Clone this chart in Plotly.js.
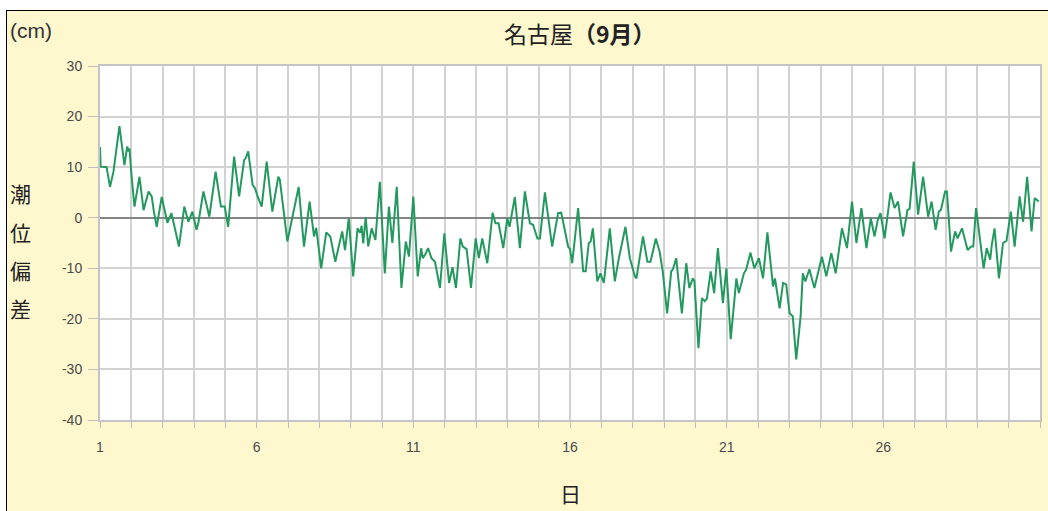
<!DOCTYPE html>
<html>
<head>
<meta charset="utf-8">
<script src="https://cdn.plot.ly/plotly-3.0.1.min.js"></script>
<style>
  html, body { margin: 0; padding: 0; background: #ffffff; width: 1048px; height: 511px; overflow: hidden; }
  #frame { position: absolute; left: 6px; top: 10px; width: 1050px; height: 510px; border-left: 1px solid #000; border-top: 1px solid #000; background: #fff8cf; }
  #chart { position: absolute; left: 0; top: 0; width: 1041px; height: 500px; }
</style>
</head>
<body>
<div id="frame"><div id="chart"></div></div>
<script>
// Day of month (fractional) and tide deviation (cm)
const days = [
  1.00, 1.02, 1.21, 1.32, 1.43, 1.62, 1.78, 1.87, 1.91, 1.94, 2.01, 2.10, 2.26, 2.39, 2.55, 2.65, 2.72, 2.81, 2.97, 3.09,
  3.15, 3.28, 3.52, 3.69, 3.82, 3.95, 4.08, 4.14, 4.30, 4.49, 4.69, 4.86, 4.98, 5.09, 5.28, 5.44, 5.60, 5.65, 5.73, 5.87,
  5.95, 6.03, 6.16, 6.32, 6.50, 6.69, 6.74, 6.98, 7.19, 7.34, 7.51, 7.69, 7.83, 7.90, 8.06, 8.22, 8.35, 8.51, 8.63, 8.73,
  8.82, 8.94, 9.08, 9.22, 9.30, 9.35, 9.40, 9.48, 9.56, 9.67, 9.79, 9.93, 10.09, 10.22, 10.33, 10.47, 10.62, 10.76, 10.86, 11.00,
  11.14, 11.25, 11.30, 11.38, 11.47, 11.58, 11.69, 11.85, 11.99, 12.14, 12.25, 12.36, 12.50, 12.58, 12.70, 12.84, 12.99, 13.09, 13.20, 13.36,
  13.53, 13.62, 13.72, 13.87, 14.00, 14.07, 14.24, 14.40, 14.56, 14.72, 14.82, 14.96, 15.04, 15.20, 15.43, 15.62, 15.72, 15.94, 16.00, 16.07,
  16.26, 16.42, 16.50, 16.60, 16.66, 16.73, 16.87, 16.97, 17.08, 17.27, 17.43, 17.56, 17.77, 17.91, 18.07, 18.12, 18.33, 18.47, 18.57, 18.74,
  18.86, 18.96, 19.10, 19.23, 19.28, 19.39, 19.57, 19.71, 19.81, 19.92, 19.97, 20.10, 20.21, 20.30, 20.37, 20.49, 20.60, 20.72, 20.88, 20.99,
  21.13, 21.31, 21.39, 21.55, 21.62, 21.76, 21.88, 22.03, 22.16, 22.30, 22.48, 22.54, 22.69, 22.80, 22.90, 23.01, 23.11, 23.22, 23.36, 23.43,
  23.51, 23.64, 23.80, 23.96, 24.04, 24.18, 24.34, 24.48, 24.68, 24.84, 25.00, 25.14, 25.30, 25.46, 25.60, 25.72, 25.82, 25.91, 26.04, 26.23,
  26.36, 26.47, 26.63, 26.77, 26.84, 26.97, 27.11, 27.27, 27.43, 27.54, 27.67, 27.77, 27.84, 27.97, 28.03, 28.16, 28.29, 28.37, 28.51, 28.69,
  28.80, 28.87, 28.96, 29.20, 29.30, 29.41, 29.46, 29.55, 29.69, 29.82, 29.93, 30.07, 30.19, 30.35, 30.46, 30.59, 30.73, 30.83, 30.96
];
const deviation = [
  14.0, 10.1, 10.0, 6.1, 9.1, 18.1, 10.4, 14.1, 13.1, 13.7, 8.1, 2.2, 8.1, 1.5, 5.2, 4.2, 1.2, -1.8, 4.1, 0.2,
  -1.0, 0.9, -5.7, 2.2, -0.8, 1.2, -2.4, -1.0, 5.2, 0.2, 9.1, 2.2, 2.2, -1.8, 12.1, 4.2, 11.4, 11.8, 13.1, 6.5,
  5.8, 4.2, 2.2, 11.1, 1.2, 8.1, 7.5, -4.7, 1.5, 6.1, -5.7, 3.2, -3.7, -2.0, -10.0, -2.9, -3.7, -8.7, -5.4, -2.7,
  -6.4, -0.1, -11.6, -2.1, -3.0, -1.6, -5.1, 0.1, -5.7, -2.1, -4.4, 7.1, -11.0, 2.2, -5.0, 6.1, -13.9, -4.7, -7.7, 4.2,
  -11.6, -6.0, -8.0, -7.3, -6.0, -8.0, -8.7, -13.9, -3.1, -12.9, -9.8, -13.9, -4.1, -5.7, -6.2, -13.9, -4.1, -8.0, -4.1, -9.0,
  1.0, -1.1, -1.1, -6.0, -0.1, -1.8, 4.1, -6.0, 5.2, -1.1, -1.4, -4.1, -4.1, 5.0, -5.7, 0.9, 1.0, -5.7, -6.2, -9.0,
  1.9, -10.6, -10.6, -5.0, -4.7, -2.1, -12.6, -11.0, -12.9, -2.1, -12.6, -8.0, -1.8, -8.0, -11.6, -12.0, -3.7, -8.7, -8.7, -4.1,
  -6.7, -10.6, -18.9, -10.6, -10.3, -8.0, -18.9, -9.0, -13.9, -12.0, -12.5, -25.8, -15.9, -16.5, -16.0, -10.6, -14.9, -6.0, -16.9, -10.0,
  -24.0, -12.0, -14.9, -11.0, -10.3, -6.9, -10.0, -8.0, -12.0, -2.9, -13.6, -12.0, -17.9, -12.9, -13.2, -18.9, -19.5, -28.0, -19.5, -11.0,
  -12.6, -10.2, -13.9, -9.7, -7.7, -11.6, -7.0, -11.0, -2.1, -6.0, 3.2, -5.0, 1.9, -6.0, -0.1, -3.7, -0.5, 0.9, -4.1, 5.0,
  1.9, 3.2, -3.7, 1.5, 1.8, 11.1, 0.6, 8.1, 0.2, 3.2, -2.4, 1.2, 1.6, 5.2, 5.2, -6.7, -2.7, -4.1, -2.1, -6.4,
  -5.7, -5.7, 1.9, -10.0, -6.0, -8.3, -5.4, -2.1, -12.0, -5.0, -4.6, 1.2, -5.7, 4.2, -0.8, 8.1, -2.7, 3.9, 3.2
];
const xTickDays = [1, 6, 11, 16, 21, 26];
const yTicks = [-40, -30, -20, -10, 0, 10, 20, 30];
const yTickText = ['-40', '-30', '-20', '-10', '0', '10', '20', '30'];
const chartTitle = '名古屋<b>（9月）</b>';
const unitLabel = '(cm)';
const yTitleChars = ['潮', '位', '偏', '差'];
const xTitle = '日';

const gridColor = '#d2d2d2';
const tickFont = { family: 'Liberation Sans Narrow, Liberation Sans, Arial, sans-serif', size: 14, color: '#4a4a4a' };
const textFont = { family: 'Noto Sans CJK JP, sans-serif', size: 21, color: '#222222' };

const trace = {
  x: days, y: deviation, type: 'scatter', mode: 'lines',
  line: { color: '#23995f', width: 2 },
  hoverinfo: 'skip'
};

const yCharPos = [0.641, 0.531, 0.424, 0.316];
const annotations = [
  { text: chartTitle, xref: 'paper', yref: 'paper', x: 0.5106, y: 1.093, xanchor: 'center', yanchor: 'middle', showarrow: false,
    font: { family: 'Noto Sans CJK JP, sans-serif', size: 23, color: '#222222' } },
  { text: unitLabel, xref: 'paper', yref: 'paper', x: -0.098, y: 1.10, xanchor: 'left', yanchor: 'middle', showarrow: false,
    font: { family: 'Liberation Sans, Arial, sans-serif', size: 21, color: '#333333' } },
  { text: xTitle, xref: 'paper', yref: 'paper', x: 0.5, y: -0.206, xanchor: 'center', yanchor: 'middle', showarrow: false, font: textFont }
].concat(yTitleChars.map((c, i) => ({
  text: c, xref: 'paper', yref: 'paper', x: -0.085, y: yCharPos[i], xanchor: 'center', yanchor: 'middle', showarrow: false, font: textFont
})));

const layout = {
  width: 1041, height: 500,
  margin: { l: 93, r: 8, t: 55, b: 91 },
  paper_bgcolor: 'rgba(0,0,0,0)',
  plot_bgcolor: '#ffffff',
  showlegend: false,
  font: { family: 'Noto Sans CJK JP, sans-serif' },
  xaxis: {
    range: [1, 31], tickvals: xTickDays, ticktext: xTickDays.map(String),
    showgrid: true, gridcolor: gridColor, gridwidth: 2,
    ticks: 'outside', ticklen: 6, tickcolor: '#bdbdbd', tickwidth: 1,
    ticklabelstandoff: 7,
    minor: { tick0: 1, dtick: 1, showgrid: true, gridcolor: gridColor, gridwidth: 2, ticks: 'outside', ticklen: 6, tickcolor: '#bdbdbd' },
    showline: true, linecolor: '#c4c4c4', linewidth: 2, mirror: true,
    zeroline: false, tickfont: tickFont, fixedrange: true
  },
  yaxis: {
    range: [-40, 30], tickvals: yTicks, ticktext: yTickText,
    showgrid: true, gridcolor: gridColor, gridwidth: 2,
    ticks: 'outside', ticklen: 10, tickcolor: '#bdbdbd', tickwidth: 1,
    ticklabelstandoff: 3,
    showline: true, linecolor: '#c4c4c4', linewidth: 2, mirror: true,
    zeroline: true, zerolinecolor: '#858585', zerolinewidth: 2,
    tickfont: tickFont, fixedrange: true
  },
  annotations: annotations
};

Plotly.newPlot('chart', [trace], layout, { staticPlot: true, displayModeBar: false });
</script>
</body>
</html>
